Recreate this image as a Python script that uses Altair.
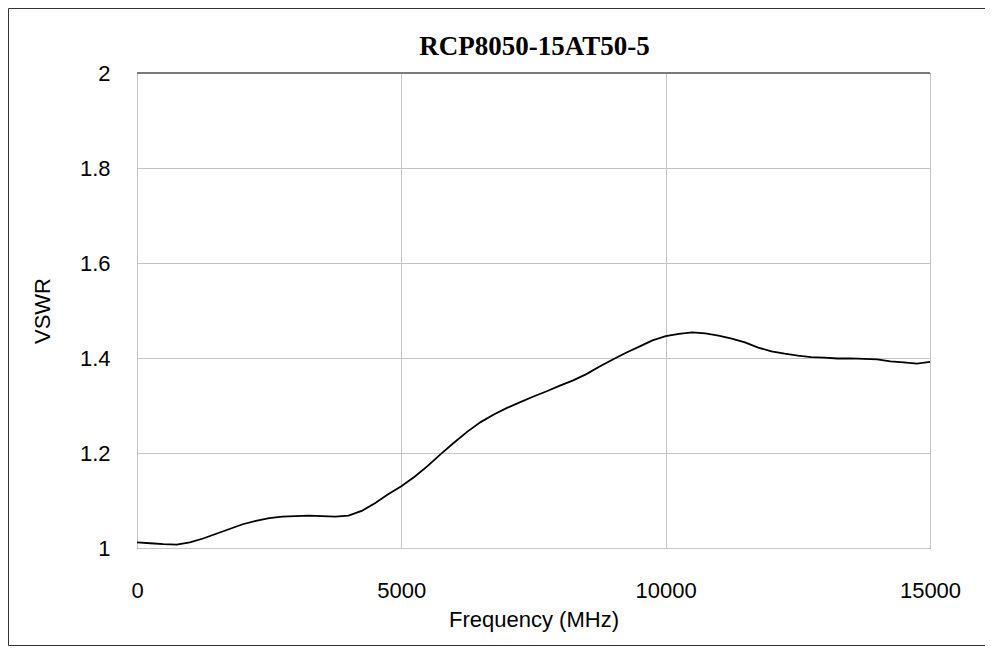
import altair as alt
import pandas as pd

# Frequency (MHz) and VSWR
freq_mhz = [0, 250, 500, 750, 1000, 1250, 1500, 1750, 2000, 2250, 2500, 2750,
            3000, 3250, 3500, 3750, 4000, 4250, 4500, 4750, 5000, 5250, 5500,
            5750, 6000, 6250, 6500, 6750, 7000, 7250, 7500, 7750, 8000, 8250,
            8500, 8750, 9000, 9250, 9500, 9750, 10000, 10250, 10500, 10750,
            11000, 11250, 11500, 11750, 12000, 12250, 12500, 12750, 13000,
            13250, 13500, 13750, 14000, 14250, 14500, 14750, 15000]
vswr = [1.012, 1.010, 1.008, 1.007, 1.012, 1.020, 1.030, 1.040, 1.050, 1.057,
        1.063, 1.066, 1.067, 1.068, 1.067, 1.066, 1.068, 1.078, 1.094, 1.113,
        1.130, 1.150, 1.173, 1.198, 1.222, 1.245, 1.265, 1.281, 1.295, 1.307,
        1.319, 1.330, 1.342, 1.353, 1.366, 1.382, 1.397, 1.411, 1.424, 1.437,
        1.446, 1.451, 1.454, 1.452, 1.447, 1.441, 1.433, 1.422, 1.414, 1.409,
        1.405, 1.402, 1.401, 1.399, 1.399, 1.398, 1.397, 1.393, 1.391, 1.388,
        1.392]

x_ticks = [0, 5000, 10000, 15000]
y_ticks = [1, 1.2, 1.4, 1.6, 1.8, 2]

title_text = "RCP8050-15AT50-5"
x_title = "Frequency (MHz)"
y_title = "VSWR"

df = pd.DataFrame({"freq": freq_mhz, "vswr": vswr})

W, H = 793, 475
LABEL_FONT = "Liberation Sans"

x_enc = alt.X(
    "freq:Q",
    scale=alt.Scale(domain=[0, 15000], nice=False, zero=False),
    axis=alt.Axis(
        values=x_ticks, format="d", title=x_title, grid=True,
        gridColor="#c4c4c4", gridWidth=1, domain=False, ticks=False,
        labelFont=LABEL_FONT, labelFontSize=22, labelColor="black",
        labelBaseline="middle", labelPadding=42, labelFlush=False,
        titleFont=LABEL_FONT, titleFontSize=22, titleFontWeight="normal",
        titleColor="black", titleBaseline="middle", titleX=W / 2, titleY=71,
    ),
)
y_enc = alt.Y(
    "vswr:Q",
    scale=alt.Scale(domain=[1, 2], nice=False, zero=False),
    axis=alt.Axis(
        values=y_ticks, format="~g", title=y_title, grid=True,
        gridColor="#c4c4c4", gridWidth=1, domain=False, ticks=False,
        labelFont=LABEL_FONT, labelFontSize=22, labelColor="black",
        labelBaseline="middle", labelAlign="right", labelPadding=27,
        labelFlush=False,
        titleFont=LABEL_FONT, titleFontSize=22, titleFontWeight="normal",
        titleColor="black", titleAngle=270, titleBaseline="middle",
        titleAlign="center", titleX=-95, titleY=H / 2,
    ),
)

line = alt.Chart(df).mark_line(color="black", strokeWidth=1.8).encode(
    x=x_enc, y=y_enc
)

deco = alt.Data(values=[{"k": 1}])
top_rule = alt.Chart(deco).mark_rule(color="#7a7a7a", strokeWidth=2).encode(
    x=alt.value(0), x2=alt.value(W), y=alt.value(0)
)
frame = alt.Chart(deco).mark_rect(
    filled=False, stroke="#333333", strokeWidth=1
).encode(
    x=alt.value(-128.5), x2=alt.value(900),
    y=alt.value(-64.5), y2=alt.value(572.5),
)
title = alt.Chart(deco).mark_text(
    font="Liberation Serif", fontSize=27, fontWeight="bold", color="black",
    align="center", baseline="alphabetic",
).encode(
    x=alt.value(W / 2 + 1), y=alt.value(-18.5), text=alt.value(title_text)
)

chart = alt.layer(frame, line, top_rule, title).properties(
    width=W,
    height=H,
    autosize=alt.AutoSizeParams(type="none"),
    padding={"left": 129, "top": 65, "right": 55, "bottom": 98},
    background="white",
).configure_view(stroke="black", strokeWidth=1)

chart.save("out.html", embed_options={"renderer": "svg", "actions": False})
